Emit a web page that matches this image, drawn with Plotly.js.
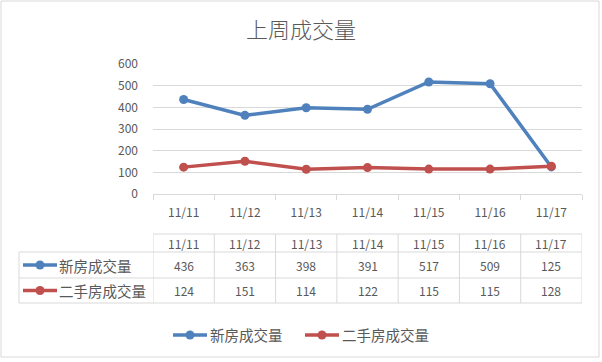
<!DOCTYPE html>
<html>
<head>
<meta charset="utf-8">
<script src="https://cdn.plot.ly/plotly-3.0.1.min.js"></script>
<style>html,body{margin:0;padding:0;background:#fff;}#chart{width:602px;height:362px;}</style>
</head>
<body>
<div id="chart"></div>
<script>
// ---- data ----
const categories = ['11/11', '11/12', '11/13', '11/14', '11/15', '11/16', '11/17'];
const seriesNames = ['新房成交量', '二手房成交量'];
const newHouse = [436, 363, 398, 391, 517, 509, 125];
const secondHand = [124, 151, 114, 122, 115, 115, 128];
const yTicks = [0, 100, 200, 300, 400, 500, 600];
const chartTitle = '上周成交量';

// ---- layout helpers (pixel -> paper) ----
const L = 153, R = 582, T = 64, B = 194;
const W = R - L, H = B - T;
const px = x => (x - L) / W;
const py = y => (B - y) / H;

const BLUE = '#4F81BD', RED = '#C0504D', TXT = '#595959', GRID = '#d9d9d9';
const FONT = '"Noto Sans CJK SC", "Noto Sans", sans-serif';
const colors = [BLUE, RED];
const seriesData = [newHouse, secondHand];

const traces = seriesData.map((vals, i) => ({
  type: 'scatter', mode: 'lines+markers',
  x: categories, y: vals, name: seriesNames[i],
  line: {color: colors[i], width: 3.5},
  marker: {color: colors[i], size: 9},
  cliponaxis: false
}));

const shapes = [];
const annotations = [];

// outer border
shapes.push({type: 'rect', xref: 'paper', yref: 'paper', x0: px(1), x1: px(599), y0: py(357), y1: py(1),
  line: {color: GRID, width: 1}, fillcolor: 'rgba(0,0,0,0)'});

// table horizontal lines
const rowY = [234, 252, 278, 303];
rowY.forEach((y, k) => {
  shapes.push({type: 'line', xref: 'paper', yref: 'paper',
    x0: k === 0 ? px(L) : px(19), x1: px(R), y0: py(y), y1: py(y),
    line: {color: GRID, width: 1}});
});
// table vertical lines (category boundaries)
for (let i = 0; i <= categories.length; i++) {
  shapes.push({type: 'line', xref: 'x', yref: 'paper', x0: i - 0.5, x1: i - 0.5,
    y0: py(234), y1: py(303), line: {color: GRID, width: 1}});
}
shapes.push({type: 'line', xref: 'paper', yref: 'paper', x0: px(19), x1: px(19),
  y0: py(252), y1: py(303), line: {color: GRID, width: 1}});

// key glyph (line + marker) helper
function key(x0, x1, yc, color) {
  shapes.push({type: 'line', xref: 'paper', yref: 'paper', x0: px(x0), x1: px(x1),
    y0: py(yc), y1: py(yc), line: {color: color, width: 3.5}});
  const xm = (x0 + x1) / 2;
  shapes.push({type: 'circle', xref: 'paper', yref: 'paper', x0: px(xm - 4.5), x1: px(xm + 4.5),
    y0: py(yc + 4.5), y1: py(yc - 4.5), line: {color: color, width: 0}, fillcolor: color});
}

// header cells
categories.forEach(c => {
  annotations.push({xref: 'x', yref: 'paper', x: c, y: py(243), text: c, showarrow: false,
    font: {size: 12, color: TXT, family: FONT}, xanchor: 'center', yanchor: 'middle'});
});
// value cells + row labels with keys
const rowCenters = [265, 290.5];
seriesData.forEach((vals, r) => {
  vals.forEach((v, i) => {
    annotations.push({xref: 'x', yref: 'paper', x: categories[i], y: py(rowCenters[r]), text: String(v),
      showarrow: false, font: {size: 12, color: TXT, family: FONT}, xanchor: 'center', yanchor: 'middle'});
  });
  annotations.push({xref: 'paper', yref: 'paper', x: px(57), y: py(rowCenters[r]), text: seriesNames[r],
    showarrow: false, font: {size: 14.5, color: TXT, family: FONT}, xanchor: 'left', yanchor: 'middle'});
  key(23, 57, rowCenters[r], colors[r]);
});

// bottom legend (drawn manually to match placement)
const legendX = [173, 305];
seriesNames.forEach((n, r) => {
  key(legendX[r], legendX[r] + 34, 335, colors[r]);
  annotations.push({xref: 'paper', yref: 'paper', x: px(legendX[r] + 35), y: py(335), text: n,
    showarrow: false, font: {size: 14.5, color: TXT, family: FONT}, xanchor: 'left', yanchor: 'middle'});
});

const layout = {
  width: 602, height: 362,
  margin: {l: L, r: 602 - R, t: T, b: 362 - B},
  paper_bgcolor: '#fff', plot_bgcolor: '#fff',
  font: {family: FONT, color: TXT, size: 12},
  title: {text: chartTitle, x: 0.5, xref: 'container', y: 1 - 30 / 362, yref: 'container', yanchor: 'middle',
    font: {size: 22, color: TXT, family: FONT, weight: 300}},
  xaxis: {type: 'category', range: [-0.5, 6.5], tickson: 'boundaries', ticks: 'outside', ticklen: 5,
    tickcolor: GRID, showline: true, linecolor: GRID, linewidth: 1, showgrid: false, zeroline: false,
    tickfont: {size: 12, color: TXT, family: FONT}, ticklabelstandoff: 8, fixedrange: true},
  yaxis: {range: [0, 600], tickvals: yTicks, ticktext: yTicks.map(String), showgrid: true, gridcolor: GRID,
    gridwidth: 1, zeroline: false, showline: false, ticks: '', ticklabelstandoff: 14,
    tickfont: {size: 12, color: TXT, family: FONT}, fixedrange: true},
  showlegend: false,
  shapes: shapes,
  annotations: annotations
};

Plotly.newPlot('chart', traces, layout, {displayModeBar: false, staticPlot: true});
</script>
</body>
</html>
